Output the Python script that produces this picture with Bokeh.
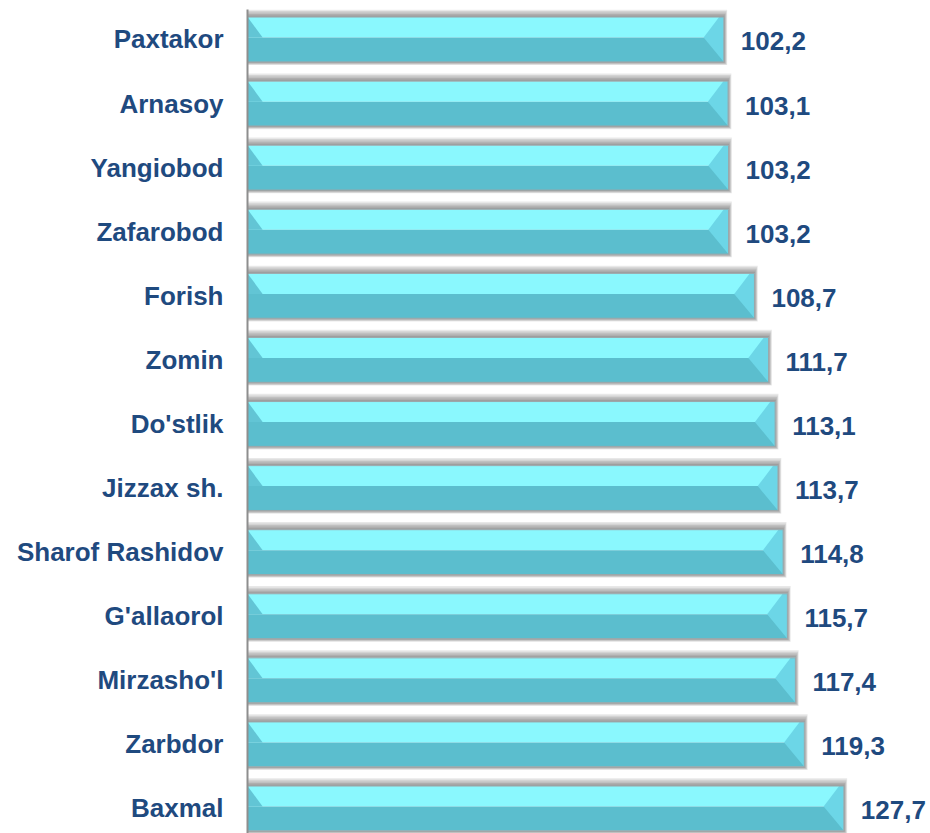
from bokeh.plotting import figure
from bokeh.models import ColumnDataSource, Range1d, FixedTicker
from bokeh.core.properties import value
from bokeh.embed import file_html
from bokeh.resources import INLINE

# ---- data (top to bottom) ----
districts = ["Paxtakor", "Arnasoy", "Yangiobod", "Zafarobod", "Forish", "Zomin",
             "Do'stlik", "Jizzax sh.", "Sharof Rashidov", "G'allaorol",
             "Mirzasho'l", "Zarbdor", "Baxmal"]
values = [102.2, 103.1, 103.2, 103.2, 108.7, 111.7, 113.1, 113.7, 114.8,
          115.7, 117.4, 119.3, 127.7]
value_labels = ["102,2", "103,1", "103,2", "103,2", "108,7", "111,7", "113,1",
                "113,7", "114,8", "115,7", "117,4", "119,3", "127,7"]

idx = list(range(len(districts)))

LABEL_COLOR = "#1F4A7F"
FONT = "Liberation Sans"

p = figure(width=930, height=833, output_backend="svg", toolbar_location=None,
           x_range=Range1d(0.977, 146.11), y_range=Range1d(12.391, -0.468),
           x_axis_location=None, y_axis_location="left",
           min_border_left=247, min_border_right=0, min_border_top=9,
           min_border_bottom=0)
p.outline_line_color = None
p.grid.visible = False
p.background_fill_color = "white"
p.border_fill_color = "white"

h = 0.70  # bar thickness in category units

# ---- shadows (stacked translucent layers -> soft gradient) ----
n_layers = 5
for k in range(n_layers, 0, -1):
    top_ext = 0.12 * k / n_layers
    bot_ext = 0.05 * k / n_layers
    r_ext = 0.7 * k / n_layers
    src = ColumnDataSource(dict(
        y=[i - (top_ext - bot_ext) / 2 for i in idx],
        right=[v + r_ext for v in values],
        height=[h + top_ext + bot_ext for _ in idx],
    ))
    p.hbar(y="y", left=0, right="right", height="height", source=src,
           fill_color="black", fill_alpha=0.09, line_color=None)

# ---- bar faces ----
mid_shift = 0.03
top_src = ColumnDataSource(dict(
    y=[i - (h / 2 + mid_shift) / 2 for i in idx],
    right=values,
))
bot_src = ColumnDataSource(dict(
    y=[i + (h / 2 - mid_shift) / 2 for i in idx],
    right=values,
))
p.hbar(y=idx, left=0, right=values, height=h, fill_color="white", line_color=None)
p.hbar(y="y", left=0, right="right", height=h / 2 - mid_shift, source=top_src,
       fill_color="#8AF8FE", line_color=None)
p.hbar(y="y", left=0, right="right", height=h / 2 + mid_shift, source=bot_src,
       fill_color="#5BBECE", line_color=None)

# right bevel
rx, ry = [], []
for i, v in zip(idx, values):
    rx.append([v - 1.0, v - 4.3, v, v])
    ry.append([i - h / 2, i - mid_shift, i + h / 2, i - h / 2])
p.patches(rx, ry, fill_color="#6CD6E7", line_color=None)

# left bevel
lx, ly = [], []
for i in idx:
    lx.append([0.98, 4.2, 0.98])
    ly.append([i - h / 2, i - mid_shift, i - mid_shift])
p.patches(lx, ly, fill_color="#62C5D5", line_color=None)

# bar outline
p.hbar(y=idx, left=0, right=values, height=h, fill_color=None,
       line_color="#9AA6A9", line_width=1)

# ---- value labels ----
p.text(x=values, y=idx, text=value_labels, x_offset=17, y_offset=2,
       text_baseline="middle", text_align="left",
       text_font=value(FONT), text_font_style="bold", text_font_size="26px",
       text_color=LABEL_COLOR)

# ---- category axis ----
yax = p.yaxis[0]
yax.ticker = FixedTicker(ticks=idx)
yax.major_label_overrides = {i: name for i, name in zip(idx, districts)}
yax.major_tick_out = 0
yax.major_tick_in = 0
yax.minor_tick_out = 0
yax.minor_tick_in = 0
yax.axis_line_color = "#8E8E8E"
yax.axis_line_width = 2
yax.major_label_standoff = 24
yax.major_label_text_font = FONT
yax.major_label_text_font_style = "bold"
yax.major_label_text_font_size = "26px"
yax.major_label_text_color = LABEL_COLOR

open("out.html", "w").write(file_html(p, INLINE))
